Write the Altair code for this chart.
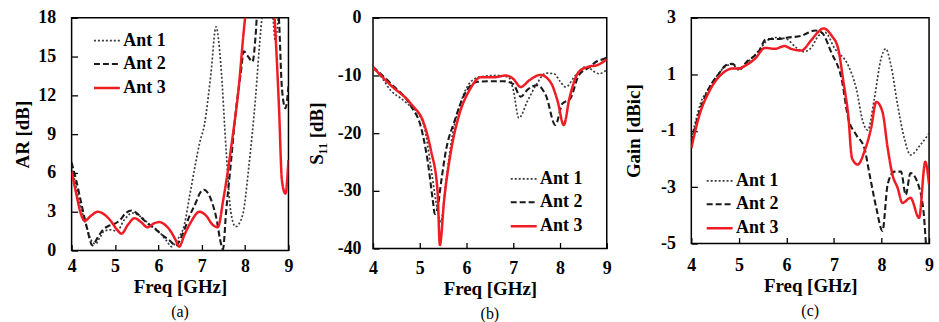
import altair as alt
import pandas as pd

FONT = "Liberation Serif"
SERIES = ["Ant 1", "Ant 2", "Ant 3"]
COLORS = ["#3a3a3a", "#1a1a1a", "#f01c24"]
DASHES = [[2, 2], [6, 3], [1, 0]]
WIDTHS = [1.7, 2.5, 2.2]
FREQ_TICKS = [4, 5, 6, 7, 8, 9]
AR_TICKS = [0, 3, 6, 9, 12, 15, 18]
S11_TICKS = [0, -10, -20, -30, -40]
GAIN_TICKS = [3, 1, -1, -3, -5]

# ---- (a) axial ratio [dB]
AR_F1 = [4.0, 4.1, 4.2, 4.35, 4.45, 4.55, 4.65, 4.75, 4.9, 5.05, 5.2, 5.4, 5.6, 5.8, 6.0,
         6.2, 6.3, 6.45, 6.6, 6.72, 6.85, 6.95, 7.06, 7.21, 7.33, 7.44, 7.56, 7.67, 7.78, 7.94,
         8.09, 8.24, 8.36, 8.5, 8.63, 8.7, 8.78, 8.9, 9.0]
AR_1 = [6.5, 5.0, 3.5, 1.8, 0.8, 0.5, 1.0, 1.5, 1.6, 1.5, 2.3, 2.9, 2.6, 2.0, 1.5,
        0.7, 0.3, 0.9, 2.0, 4.2, 6.6, 8.3, 9.7, 13.6, 17.3, 14.4, 7.9, 3.0, 1.85, 2.7,
        6.6, 11.8, 17.0, 20.5, 18.5, 16.2, 18.5, 20.5, 21.0]
AR_F2 = [4.0, 4.1, 4.2, 4.35, 4.48, 4.6, 4.72, 4.85, 4.95, 5.1, 5.25, 5.38, 5.5, 5.65, 5.79,
         5.95, 6.09, 6.25, 6.4, 6.55, 6.71, 6.85, 6.97, 7.05, 7.15, 7.25, 7.35, 7.42, 7.49, 7.56,
         7.67, 7.78, 7.9, 7.97, 8.07, 8.17, 8.24, 8.3, 8.45, 8.7, 8.78, 8.85, 8.93, 9.0]
AR_2 = [6.8, 5.5, 4.0, 1.8, 0.4, 1.0, 1.6, 1.9, 2.0, 2.3, 2.9, 3.1, 2.9, 2.4, 2.0,
        1.6, 1.2, 0.8, 0.4, 1.2, 2.6, 3.6, 4.5, 4.7, 4.4, 3.6, 2.3, 0.9, 0.1, 2.9,
        6.7, 10.6, 13.7, 15.4, 15.0, 14.6, 16.5, 19.5, 21.0, 21.0, 18.0, 12.5, 11.0, 12.7]
AR_F3 = [4.0, 4.1, 4.2, 4.3, 4.45, 4.6, 4.75, 4.9, 5.05, 5.15, 5.3, 5.45, 5.6, 5.75, 5.9,
         6.02, 6.15, 6.3, 6.4, 6.48, 6.6, 6.75, 6.95, 7.1, 7.25, 7.37, 7.5, 7.7, 7.85, 7.97,
         8.05, 8.15, 8.6, 8.68, 8.78, 8.85, 8.93, 9.0]
AR_3 = [6.1, 4.5, 3.0, 2.3, 2.7, 3.0, 2.8, 2.3, 1.6, 1.3, 2.0, 2.5, 2.2, 1.8, 2.1,
        2.2, 2.0, 1.4, 0.8, 0.3, 1.2, 2.2, 3.0, 2.7, 2.0, 1.8, 4.0, 8.5, 12.5, 17.0,
        19.5, 22.0, 22.0, 18.0, 11.2, 5.4, 4.4, 7.0]

# ---- (b) S11 [dB]
S_F1 = [4.0, 4.2, 4.38, 4.6, 4.81, 5.0, 5.1, 5.24, 5.35, 5.45, 5.56, 5.7, 5.88, 6.09, 6.31,
        6.62, 6.9, 7.0, 7.12, 7.3, 7.5, 7.7, 7.87, 8.0, 8.12, 8.33, 8.55, 8.83, 9.0]
S_1 = [-8.5, -10.5, -12.6, -14.0, -15.4, -17.0, -19.0, -26.0, -32.0, -35.4, -28.3, -20.3, -14.6, -11.1, -10.2,
       -10.0, -10.3, -12.5, -17.4, -14.5, -11.5, -9.6, -9.7, -11.0, -12.0, -10.0, -8.5, -9.7, -9.0]
S_F2 = [4.0, 4.38, 4.81, 5.03, 5.17, 5.28, 5.32, 5.38, 5.45, 5.56, 5.74, 5.95, 6.24, 6.5, 6.8,
        7.0, 7.16, 7.3, 7.51, 7.7, 7.9, 8.05, 8.22, 8.4, 8.62, 8.8, 8.97, 9.0]
S_2 = [-8.5, -11.4, -15.3, -19.1, -24.9, -31.7, -34.0, -33.0, -28.9, -23.0, -18.0, -13.4, -11.1, -11.0, -11.0,
       -11.5, -13.7, -12.5, -11.7, -13.5, -18.6, -14.9, -14.0, -10.0, -8.6, -7.5, -7.0, -6.8]
S_F3 = [4.0, 4.38, 4.81, 5.1, 5.24, 5.38, 5.43, 5.52, 5.67, 5.84, 6.06, 6.31, 6.6, 6.85, 7.0,
        7.16, 7.35, 7.58, 7.8, 7.95, 8.08, 8.2, 8.4, 8.6, 8.8, 9.0]
S_3 = [-8.6, -11.7, -14.9, -18.6, -23.0, -30.0, -39.4, -31.7, -23.0, -16.9, -12.6, -10.3, -10.3, -10.0, -10.6,
       -12.0, -10.8, -9.9, -11.2, -14.5, -18.6, -14.0, -9.4, -8.5, -8.2, -7.2]

# ---- (c) Gain [dBic]
G_F1 = [4.0, 4.1, 4.2, 4.35, 4.5, 4.7, 4.86, 5.0, 5.2, 5.45, 5.6, 5.8, 6.0, 6.2, 6.35,
        6.5, 6.68, 6.81, 7.02, 7.3, 7.47, 7.61, 7.71, 7.85, 7.99, 8.09, 8.2, 8.34, 8.48, 8.61,
        8.82, 9.0]
G_1 = [-1.3, -0.6, 0.0, 0.45, 0.85, 1.25, 1.35, 1.15, 1.45, 1.9, 2.2, 2.3, 2.25, 1.95, 1.8,
       1.9, 2.37, 2.48, 1.9, 1.31, 0.49, -0.69, -0.98, 0.14, 1.55, 1.9, 1.31, -0.1, -1.27, -1.86,
       -1.5, -1.1]
G_F2 = [4.0, 4.17, 4.37, 4.58, 4.72, 4.86, 5.0, 5.2, 5.41, 5.58, 5.82, 6.03, 6.31, 6.61, 6.74,
        6.95, 7.16, 7.3, 7.47, 7.64, 7.75, 7.89, 8.02, 8.13, 8.27, 8.41, 8.51, 8.61, 8.79, 8.89,
        8.95, 9.0]
G_2 = [-1.4, -0.33, 0.5, 1.02, 1.31, 1.37, 1.2, 1.49, 1.78, 2.25, 2.25, 2.3, 2.36, 2.55, 2.48,
       1.75, 0.84, -0.56, -1.15, -1.62, -2.56, -3.73, -4.55, -2.9, -2.45, -2.45, -3.27, -2.5, -3.0, -3.97,
       -5.3, -5.8]
G_F3 = [4.0, 4.17, 4.37, 4.65, 4.86, 5.0, 5.13, 5.34, 5.55, 5.76, 5.96, 6.1, 6.31, 6.52, 6.66,
        6.78, 6.95, 7.09, 7.2, 7.3, 7.38, 7.5, 7.64, 7.78, 7.89, 8.02, 8.13, 8.23, 8.34, 8.44,
        8.61, 8.79, 8.92, 9.0]
G_3 = [-1.62, -0.45, 0.37, 1.02, 1.2, 1.2, 1.3, 1.55, 1.93, 1.9, 2.0, 1.9, 1.84, 2.2, 2.48,
       2.62, 2.37, 1.9, 0.72, -0.45, -1.98, -2.2, -1.74, -0.92, 0.02, -0.33, -1.62, -2.56, -3.03, -3.56,
       -3.38, -4.09, -2.1, -2.9]


def frame(fs, vs):
    rows = []
    for name, f, v in zip(SERIES, fs, vs):
        for a, b in zip(f, v):
            rows.append({"f": a, "v": b, "s": name})
    return pd.DataFrame(rows)


def panel(df, ytitle, ydom, yticks, w, h, lx, ly, caption,
          xlabpad, ylabpad, ytitlepad, xtitlepad, capoff):
    legend = alt.Legend(
        title=None, orient="none", legendX=lx, legendY=ly,
        symbolType="stroke", symbolSize=680, symbolStrokeWidth=2,
        labelFont=FONT, labelFontSize=18, labelFontWeight="bold", labelColor="black",
        labelOffset=2, rowPadding=-5, padding=0,
    )
    return alt.Chart(df).mark_line(clip=True, interpolate="monotone").encode(
        x=alt.X("f:Q", scale=alt.Scale(domain=[4, 9], nice=False, zero=False),
                axis=alt.Axis(values=FREQ_TICKS, title="Freq [GHz]", domain=False, grid=False,
                              tickSize=6, offset=-6, tickColor="black", tickWidth=1.3,
                              labelFont=FONT, labelFontSize=18, labelFontWeight="bold",
                              labelColor="black", labelPadding=xlabpad, labelFlush=False,
                              labelOverlap=False,
                              titleFont=FONT, titleFontSize=19, titleFontWeight="bold",
                              titleColor="black", titlePadding=xtitlepad)),
        y=alt.Y("v:Q", scale=alt.Scale(domain=ydom, nice=False, zero=False),
                axis=alt.Axis(values=yticks, title=ytitle, domain=False, grid=False,
                              tickSize=6, offset=-6, tickColor="black", tickWidth=1.3,
                              labelExpr="'' + datum.value",
                              labelFont=FONT, labelFontSize=18, labelFontWeight="bold",
                              labelColor="black", labelPadding=ylabpad, labelOverlap=False,
                              titleFont=FONT, titleFontSize=19, titleFontWeight="bold",
                              titleColor="black", titlePadding=ytitlepad)),
        color=alt.Color("s:N", scale=alt.Scale(domain=SERIES, range=COLORS), legend=legend),
        strokeDash=alt.StrokeDash("s:N", scale=alt.Scale(domain=SERIES, range=DASHES), legend=legend),
        strokeWidth=alt.StrokeWidth("s:N", scale=alt.Scale(domain=SERIES, range=WIDTHS), legend=None),
    ).properties(
        width=w, height=h,
        title=alt.TitleParams(caption, orient="bottom", anchor="middle", font=FONT, fontSize=16,
                              fontWeight="normal", color="black", offset=capoff),
    )


pa = panel(frame([AR_F1, AR_F2, AR_F3], [AR_1, AR_2, AR_3]), "AR [dB]", [0, 18], AR_TICKS,
           218, 234, 21, 9, "(a)", 7, 16, 5, 2, 8)
pb = panel(frame([S_F1, S_F2, S_F3], [S_1, S_2, S_3]), "S\u2081\u2081 [dB]", [-40, 0], S11_TICKS,
           235, 232, 137, 148, "(b)", 11, 12, 11, 2, 8)
pc = panel(frame([G_F1, G_F2, G_F3], [G_1, G_2, G_3]), "Gain [dBic]", [-5, 3], GAIN_TICKS,
           239, 227, 14, 150, "(c)", 13, 16, 17, 2, 8)

chart = alt.hconcat(pa, pb, pc, spacing=85, bounds="flush").resolve_scale(
    color="independent", strokeDash="independent", strokeWidth="independent"
).configure_view(stroke="black", strokeWidth=1.5).properties(
    padding={"left": 13, "top": 7, "right": 4, "bottom": 0}, background="white"
)

chart.save("out.html", embed_options={"renderer": "svg", "actions": False})
